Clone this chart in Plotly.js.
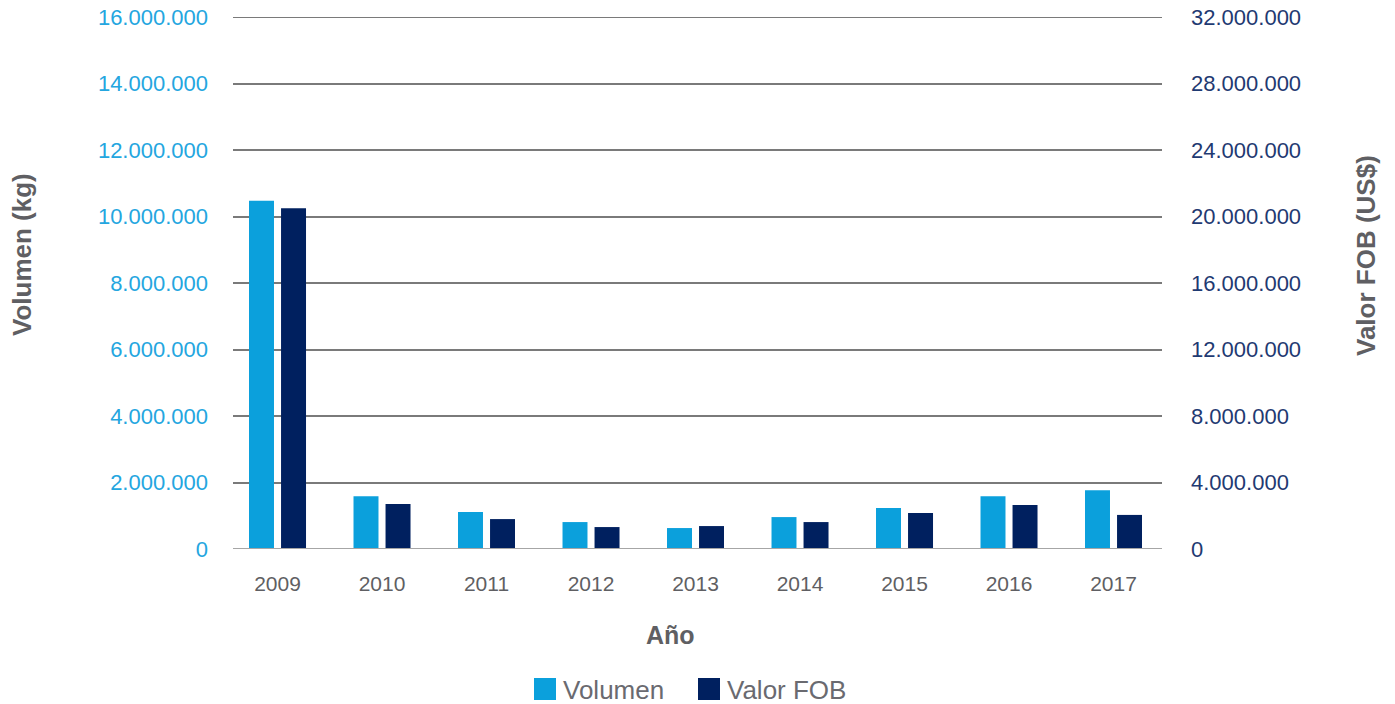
<!DOCTYPE html>
<html>
<head>
<meta charset="utf-8">
<script src="https://cdn.plot.ly/plotly-3.0.1.min.js"></script>
<style>
  html, body { margin: 0; padding: 0; background: #fff; }
  #chart { width: 1395px; height: 704px; }
</style>
</head>
<body>
<div id="chart"></div>
<script>
// Exportaciones anuales: volumen (kg) y valor FOB (US$)
const years = ['2009', '2010', '2011', '2012', '2013', '2014', '2015', '2016', '2017'];
const volumenKg = [10470000, 1590000, 1110000, 810000, 630000, 960000, 1230000, 1590000, 1770000];
const valorFobUsd = [20500000, 2700000, 1800000, 1320000, 1380000, 1620000, 2170000, 2650000, 2050000];
const seriesNames = ['Volumen', 'Valor FOB'];

const cVolumen = '#0ba0dc';
const cValor = '#00205f';
const grey = '#5f5f63';
const font = 'Liberation Sans, Arial, Helvetica, sans-serif';

// plot area in pixels, used to place the hand-drawn legend and titles
const L = 233, R = 1162, T = 17, B = 549;
const px = v => (v - L) / (R - L);
const py = v => (B - v) / (B - T);

const traces = [
  {
    type: 'bar', name: seriesNames[0], x: years, y: volumenKg,
    marker: { color: cVolumen }, offsetgroup: 'a', yaxis: 'y',
    hovertemplate: '%{x}: %{y:,} kg<extra></extra>'
  },
  {
    type: 'bar', name: seriesNames[1], x: years, y: valorFobUsd,
    marker: { color: cValor }, offsetgroup: 'b', yaxis: 'y2',
    hovertemplate: '%{x}: US$ %{y:,}<extra></extra>'
  }
];

// legend: large swatches followed by labels
const legendY = 689, sw = 22;
const legendItems = [
  { x: 534, color: cVolumen, text: seriesNames[0] },
  { x: 698, color: cValor, text: seriesNames[1] }
];
const legendShapes = legendItems.map(it => ({
  type: 'rect', xref: 'paper', yref: 'paper',
  x0: px(it.x), x1: px(it.x + sw), y0: py(legendY + sw / 2), y1: py(legendY - sw / 2),
  fillcolor: it.color, line: { width: 0 }
}));
const legendLabels = legendItems.map(it => ({
  text: it.text, xref: 'paper', yref: 'paper', x: px(it.x + sw + 5), y: py(legendY + 1),
  xanchor: 'left', yanchor: 'middle', showarrow: false,
  font: { size: 26, color: '#6a6a70', family: font }
}));

const layout = {
  width: 1395, height: 704,
  margin: { l: L, r: 1395 - R, t: T, b: 704 - B },
  paper_bgcolor: '#fff', plot_bgcolor: '#fff',
  separators: ',.',
  barmode: 'group', bargap: 0.387, bargroupgap: 0.22,
  font: { family: font, color: grey },
  showlegend: false,
  xaxis: {
    type: 'category', range: [-0.426, 8.464],
    showgrid: false, zeroline: false, showline: false, ticks: '',
    tickfont: { size: 21, color: grey }, ticklabelstandoff: 20
  },
  yaxis: {
    range: [0, 16000000], dtick: 2000000, tickformat: ',',
    gridcolor: '#7a7a7a', gridwidth: 2, zeroline: false, showline: false,
    tickfont: { size: 22, color: '#24a6df' }, ticklabelstandoff: 24
  },
  yaxis2: {
    overlaying: 'y', side: 'right',
    range: [0, 32000000], dtick: 4000000, tickformat: ',',
    showgrid: false, zeroline: false, showline: false,
    tickfont: { size: 22, color: '#1f3a72' }, ticklabelstandoff: 28
  },
  shapes: [
    { type: 'line', xref: 'paper', yref: 'y', x0: 0, x1: 1, y0: 0, y1: 0,
      line: { color: '#a6a6a6', width: 2 } },
    { type: 'line', xref: 'paper', yref: 'y', x0: 0, x1: 1, y0: 16000000, y1: 16000000,
      line: { color: '#7a7a7a', width: 2 } }
  ].concat(legendShapes),
  annotations: [
    { text: 'Volumen (kg)', textangle: -90, xref: 'paper', yref: 'paper',
      x: px(22), y: py(255), xanchor: 'center', yanchor: 'middle', showarrow: false,
      font: { size: 26, color: grey, family: font, weight: 'bold' } },
    { text: 'Valor FOB (US$)', textangle: -90, xref: 'paper', yref: 'paper',
      x: px(1366), y: py(256), xanchor: 'center', yanchor: 'middle', showarrow: false,
      font: { size: 26, color: grey, family: font, weight: 'bold' } },
    { text: 'Año', xref: 'paper', yref: 'paper',
      x: px(670), y: py(635), xanchor: 'center', yanchor: 'middle', showarrow: false,
      font: { size: 25, color: grey, family: font, weight: 'bold' } }
  ].concat(legendLabels)
};

Plotly.newPlot('chart', traces, layout, { displayModeBar: false, staticPlot: true });
</script>
</body>
</html>
